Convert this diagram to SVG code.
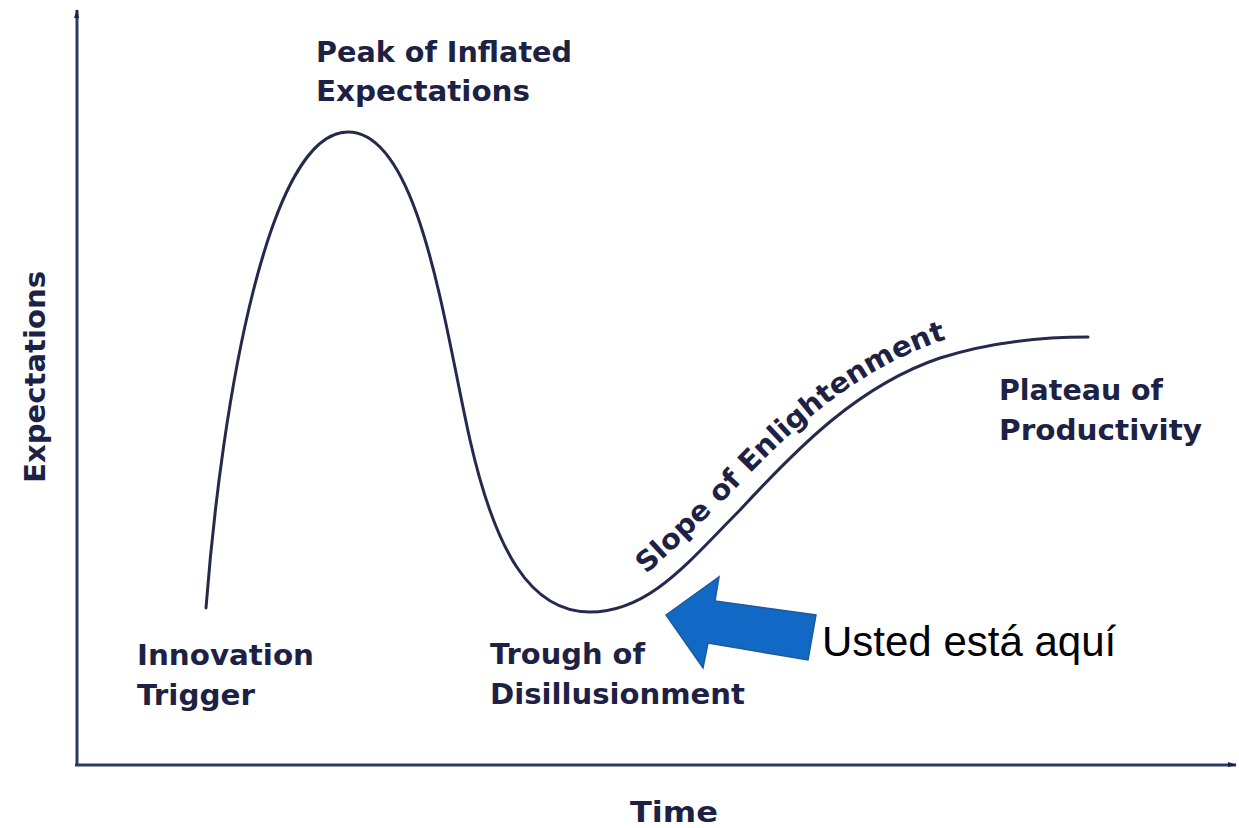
<svg xmlns="http://www.w3.org/2000/svg" width="1239" height="828" viewBox="0 0 1239 828">
<style>
.lbl{font-family:"DejaVu Sans","Liberation Sans",sans-serif;font-weight:bold;font-size:28px;fill:#1d2244}
.axis{stroke:#2b3a5e;stroke-width:3;fill:none}
.curve{stroke:#252a4d;stroke-width:3;fill:none;stroke-linecap:round}
.note{font-family:"Liberation Sans",Arial,sans-serif;font-size:42px;fill:#000}
</style>
<defs>
<marker id="ah" markerWidth="10" markerHeight="8" refX="8" refY="4" orient="auto" markerUnits="userSpaceOnUse">
<path d="M0,1 L9,4 L0,6 Z" fill="#1d2244"/>
</marker>
<path id="slopePath" d="M646,574 C676,548 708,516 738,486 C795,426 855,372 938,342 C965,333 990,329 1010,327"/>
</defs>
<rect width="1239" height="828" fill="#ffffff"/>
<g id="axes">
<line class="axis" x1="77" y1="766" x2="77" y2="10" marker-end="url(#ah)"/>
<line class="axis" x1="75" y1="765" x2="1236" y2="765" marker-end="url(#ah)"/>
</g>
<g id="connectors">
<path id="hype-curve" class="curve" d="M206,608 C222,400 268,132 348,132 C420,132 445,330 470,440 C495,550 530,612 590,612 C650,612 690,560 740,510 C800,445 860,385 940,358 C990,342 1040,337 1088,337"/>
</g>
<g id="peak">
<text class="lbl" x="316" y="62" textLength="256" lengthAdjust="spacingAndGlyphs">Peak of Inflated</text>
<text class="lbl" x="316" y="101" textLength="214" lengthAdjust="spacingAndGlyphs">Expectations</text>
</g>
<g id="trigger">
<text class="lbl" x="137" y="665" textLength="177" lengthAdjust="spacingAndGlyphs">Innovation</text>
<text class="lbl" x="137" y="705" textLength="118" lengthAdjust="spacingAndGlyphs">Trigger</text>
</g>
<g id="trough">
<text class="lbl" x="490" y="664" textLength="155" lengthAdjust="spacingAndGlyphs">Trough of</text>
<text class="lbl" x="490" y="704" textLength="255" lengthAdjust="spacingAndGlyphs">Disillusionment</text>
</g>
<g id="slope">
<text class="lbl" font-size="26"><textPath href="#slopePath" textLength="385" lengthAdjust="spacingAndGlyphs">Slope of Enlightenment</textPath></text>
</g>
<g id="plateau">
<text class="lbl" x="999" y="400" textLength="164" lengthAdjust="spacingAndGlyphs">Plateau of</text>
<text class="lbl" x="999" y="440" textLength="203" lengthAdjust="spacingAndGlyphs">Productivity</text>
</g>
<g id="axis-labels">
<text class="lbl" x="630" y="822" textLength="88" lengthAdjust="spacingAndGlyphs">Time</text>
<text class="lbl" transform="translate(45,377) rotate(-90)" text-anchor="middle" textLength="212" lengthAdjust="spacingAndGlyphs">Expectations</text>
</g>
<g id="you-are-here">
<polygon points="666,615 719,577 715,601 816,615 808,660 708,643 703,668" fill="#1169c5" stroke="#1d5a9a" stroke-width="1.5" stroke-linejoin="miter"/>
<text class="note" x="822" y="656">Usted está aquí</text>
</g>
</svg>
